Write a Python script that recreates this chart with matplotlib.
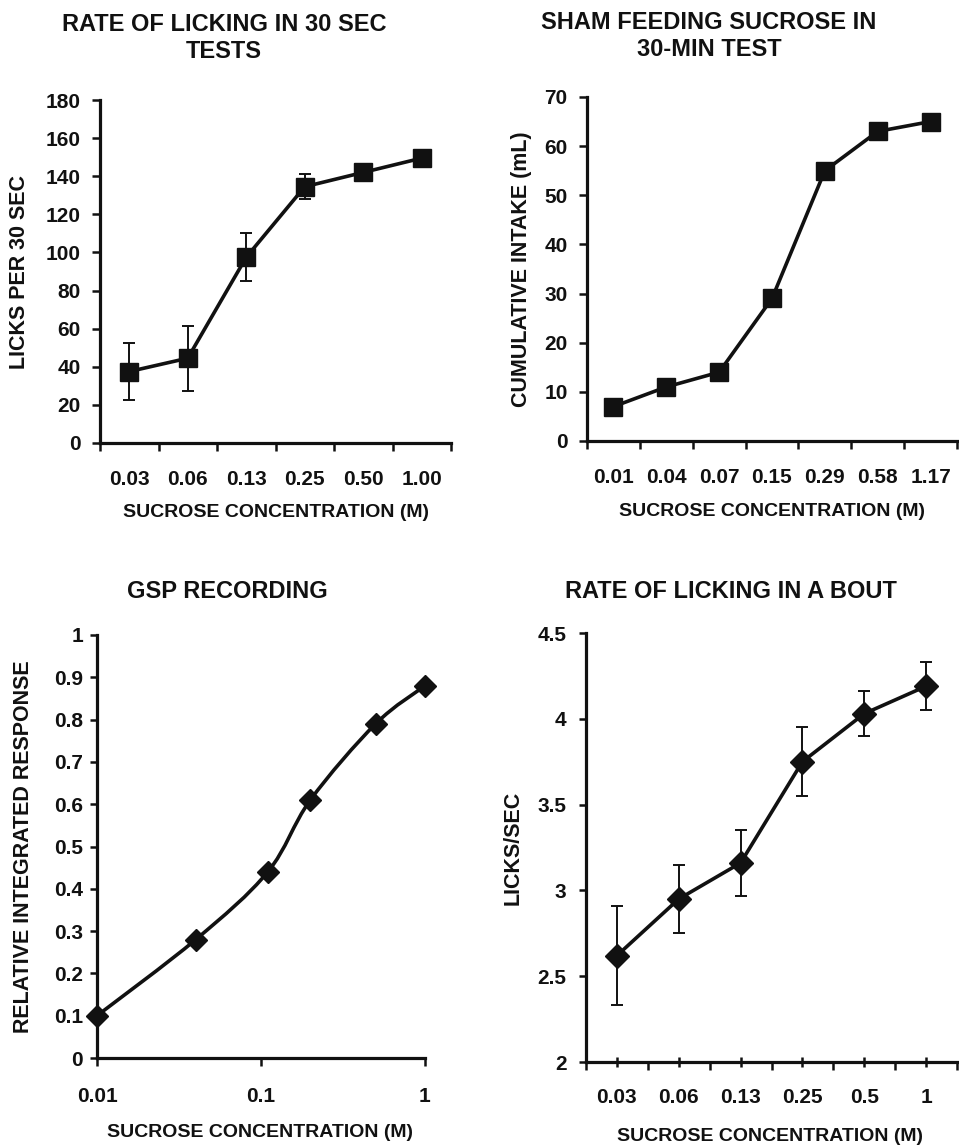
import numpy as np
import matplotlib
matplotlib.use('Agg')
import matplotlib.pyplot as plt
from matplotlib.path import Path
from matplotlib.patches import PathPatch
from matplotlib.ticker import FuncFormatter

# ---------------- data ----------------
# Panel 1: rate of licking in 30-sec tests
lick30_conc = ['0.03', '0.06', '0.13', '0.25', '0.50', '1.00']
lick30_mean = [37.5, 44.5, 97.5, 134.5, 142, 149.5]
lick30_err = [15, 17, 12.5, 6.5, 3, 2]

# Panel 2: sham feeding sucrose in 30-min test
sham_conc = ['0.01', '0.04', '0.07', '0.15', '0.29', '0.58', '1.17']
sham_intake = [7, 11, 14, 29, 55, 63, 65]

# Panel 3: GSP recording
gsp_conc = [0.01, 0.04, 0.11, 0.2, 0.5, 1.0]
gsp_resp = [0.10, 0.28, 0.44, 0.61, 0.79, 0.88]
gsp_ticks = [0.01, 0.1, 1]
gsp_ticklabels = ['0.01', '0.1', '1']

# Panel 4: rate of licking in a bout
bout_conc = ['0.03', '0.06', '0.13', '0.25', '0.5', '1']
bout_rate = [2.62, 2.95, 3.16, 3.75, 4.03, 4.19]
bout_err = [0.29, 0.20, 0.19, 0.20, 0.13, 0.14]

titles = ['RATE OF LICKING IN 30 SEC\nTESTS', 'SHAM FEEDING SUCROSE IN\n30-MIN TEST',
          'GSP RECORDING', 'RATE OF LICKING IN A BOUT']
xlabel = 'SUCROSE CONCENTRATION (M)'
ylabels = ['LICKS PER 30 SEC', 'CUMULATIVE INTAKE (mL)', 'RELATIVE INTEGRATED RESPONSE', 'LICKS/SEC']

# ---------------- style ----------------
plt.rcParams['font.family'] = ['Liberation Sans', 'DejaVu Sans']
plt.rcParams['font.weight'] = 'bold'
INK = '#111111'
W, H = 959, 1146
fig = plt.figure(figsize=(W / 100, H / 100), dpi=100)
fig.patch.set_facecolor('white')

TICK_FS = 15
XLAB_FS = 14
YLAB_FS = 15.5
TITLE_FS = 17
SPINE_LW = 2.3
LINE_LW = 2.6


def rect(x0, yt, x1, yb):
    return [x0 / W, 1 - yb / H, (x1 - x0) / W, (yb - yt) / H]


def base_style(ax):
    for s in ['top', 'right']:
        ax.spines[s].set_visible(False)
    for s in ['left', 'bottom']:
        ax.spines[s].set_linewidth(SPINE_LW)
        ax.spines[s].set_color(INK)
        ax.spines[s].set_capstyle('projecting')
    ax.tick_params(colors=INK, labelsize=TICK_FS, width=1.8)
    for lab in ax.get_xticklabels(which='both') + ax.get_yticklabels():
        lab.set_fontweight('bold')


def labels(ax, i, xl, yl):
    ax.set_xlabel(xlabel, fontsize=XLAB_FS, fontweight='bold', color=INK, va='center')
    ax.xaxis.set_label_coords(*xl)
    ax.set_ylabel(ylabels[i], fontsize=YLAB_FS, fontweight='bold', color=INK, va='center')
    ax.yaxis.set_label_coords(*yl)


# ---- Panel 1 ----
ax1 = fig.add_axes(rect(100, 100, 451, 443))
x1 = np.arange(len(lick30_conc))
ax1.errorbar(x1, lick30_mean, yerr=lick30_err, fmt='-s', color=INK, lw=LINE_LW, ms=13,
             ecolor=INK, elinewidth=1.4, capsize=4, capthick=1.4, clip_on=False, zorder=3)
ax1.set_xlim(-0.5, len(lick30_conc) - 0.5)
ax1.set_ylim(0, 180)
ax1.set_yticks(np.arange(0, 181, 20))
ax1.set_xticks(x1, lick30_conc)
ax1.set_xticks(np.arange(-0.5, len(lick30_conc), 1), minor=True)
base_style(ax1)
ax1.tick_params(axis='x', which='major', length=0, pad=19.5)
ax1.tick_params(axis='x', which='minor', length=6, width=1.8, direction='out', color=INK)
ax1.tick_params(axis='y', length=6, pad=8, direction='out')
labels(ax1, 0, (0.501, -0.204), (-0.228, 0.4985))

# ---- Panel 2 ----
ax2 = fig.add_axes(rect(587, 97, 957, 441))
x2 = np.arange(len(sham_conc))
ax2.plot(x2, sham_intake, '-s', color=INK, lw=LINE_LW, ms=13.5, clip_on=False, zorder=3)
ax2.set_xlim(-0.5, len(sham_conc) - 0.5)
ax2.set_ylim(0, 70)
ax2.set_yticks(np.arange(0, 71, 10))
ax2.set_xticks(x2, sham_conc)
ax2.set_xticks(np.arange(-0.5, len(sham_conc), 1), minor=True)
base_style(ax2)
ax2.tick_params(axis='x', which='major', length=0, pad=19.5)
ax2.tick_params(axis='x', which='minor', length=6, width=1.8, direction='out', color=INK)
ax2.tick_params(axis='y', length=6, pad=8, direction='out')
labels(ax2, 1, (0.5, -0.2035), (-0.178, 0.5))

# ---- Panel 3 (smoothed line on log axis) ----
ax3 = fig.add_axes(rect(97, 635, 425, 1058))
ax3.set_xscale('log')
u = np.log10(gsp_conc)
v = np.array(gsp_resp)
n = len(u)
verts = [(gsp_conc[0], gsp_resp[0])]
codes = [Path.MOVETO]
for i in range(n - 1):
    p0 = np.array([u[max(i - 1, 0)], v[max(i - 1, 0)]])
    p1 = np.array([u[i], v[i]])
    p2 = np.array([u[i + 1], v[i + 1]])
    p3 = np.array([u[min(i + 2, n - 1)], v[min(i + 2, n - 1)]])
    c1 = p1 + (p2 - p0) / 6.0
    c2 = p2 - (p3 - p1) / 6.0
    for c in (c1, c2, p2):
        verts.append((10 ** c[0], c[1]))
    codes += [Path.CURVE4] * 3
ax3.add_patch(PathPatch(Path(verts, codes), fill=False, lw=LINE_LW, edgecolor=INK,
                        clip_on=False, zorder=2))
ax3.plot(gsp_conc, gsp_resp, 'D', color=INK, ms=11, clip_on=False, zorder=3)
ax3.set_xlim(0.01, 1)
ax3.set_ylim(0, 1)
ax3.set_yticks(np.arange(0, 1.01, 0.1))
ax3.yaxis.set_major_formatter(FuncFormatter(lambda y, p: f'{y:g}' if abs(y) > 1e-9 else '0'))
ax3.set_xticks(gsp_ticks, gsp_ticklabels)
ax3.xaxis.set_minor_locator(matplotlib.ticker.NullLocator())
base_style(ax3)
ax3.tick_params(axis='x', length=6, pad=15, direction='out')
ax3.tick_params(axis='y', length=5, pad=5, direction='out')
labels(ax3, 2, (0.497, -0.177), (-0.2226, 0.5))

# ---- Panel 4 ----
ax4 = fig.add_axes(rect(586, 633, 957, 1062))
x4 = np.arange(len(bout_conc))
ax4.errorbar(x4, bout_rate, yerr=bout_err, fmt='-D', color=INK, lw=LINE_LW, ms=12,
             ecolor=INK, elinewidth=1.4, capsize=4, capthick=1.4, clip_on=False, zorder=3)
ax4.set_xlim(-0.5, len(bout_conc) - 0.5)
ax4.set_ylim(2, 4.5)
ax4.set_yticks(np.arange(2, 4.51, 0.5))
ax4.yaxis.set_major_formatter(FuncFormatter(lambda y, p: f'{y:g}'))
ax4.set_xticks(x4, bout_conc)
ax4.set_xticks(np.arange(-0.5, len(bout_conc), 1), minor=True)
base_style(ax4)
ax4.tick_params(axis='x', which='major', length=7, direction='inout', pad=15.5)
ax4.tick_params(axis='x', which='minor', length=6, width=1.8, direction='out', color=INK)
ax4.tick_params(axis='y', length=5, pad=9, direction='out')
labels(ax4, 3, (0.496, -0.1725), (-0.197, 0.499))

# ---- titles ----
title_pos = [(224, 38), (709, 36), (227, 591), (731, 591)]
for t, (px, py) in zip(titles, title_pos):
    fig.text(px / W, 1 - py / H, t, ha='center', va='center', fontsize=TITLE_FS,
             fontweight='bold', color=INK, linespacing=1.25)

fig.savefig('out.png', dpi=100, facecolor='white')
